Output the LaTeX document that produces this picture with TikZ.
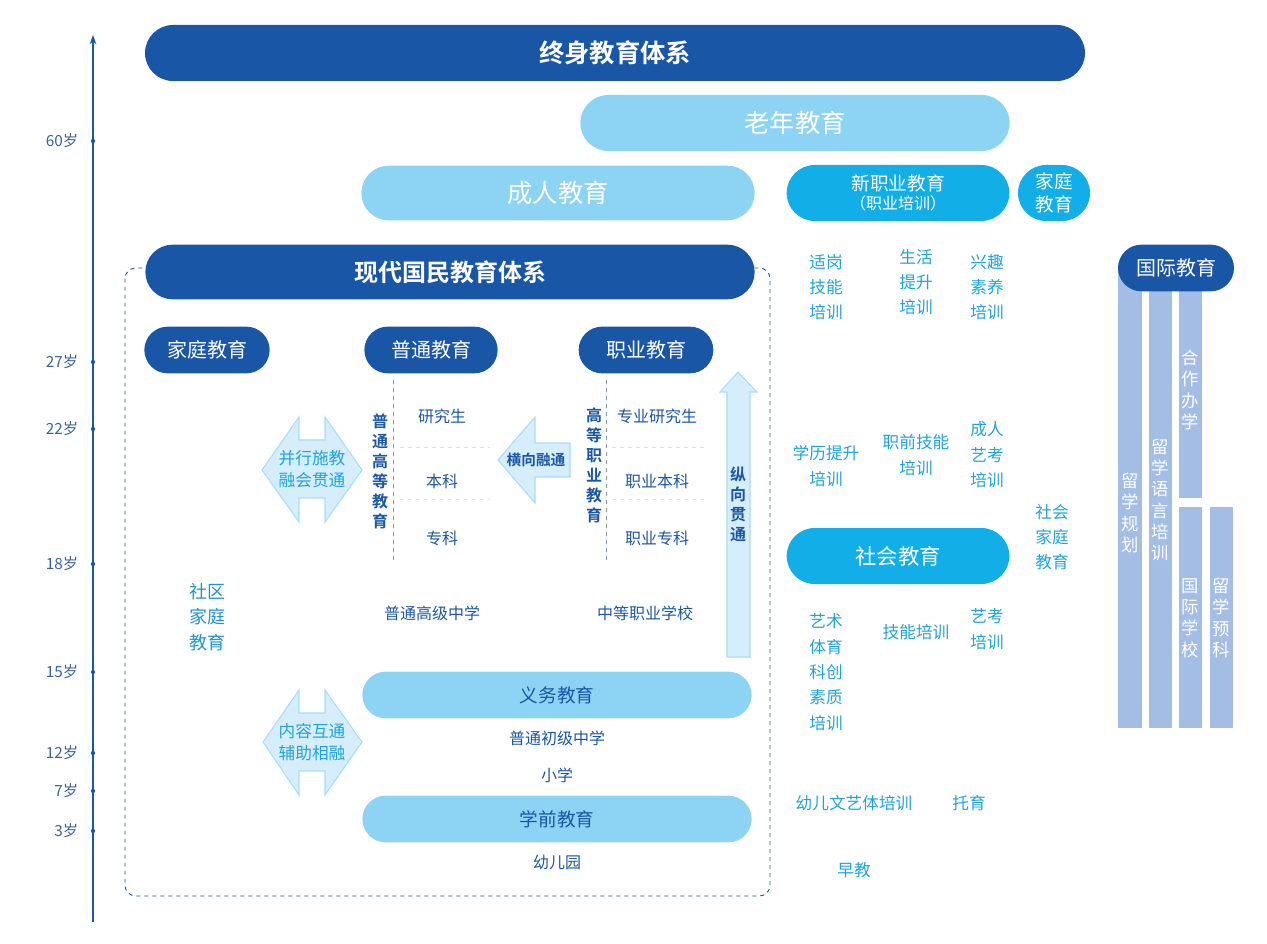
\documentclass[tikz,border=0pt]{standalone}
\usepackage{fontspec}
\setmainfont{Noto Sans CJK SC}[BoldFont={Noto Sans CJK SC Bold}]
\usetikzlibrary{shapes.misc,arrows.meta}
\definecolor{dk}{HTML}{1A56A6}
\definecolor{lb}{HTML}{8DD4F4}
\definecolor{cy}{HTML}{12AEE8}
\definecolor{ct}{HTML}{1EA4DA}
\definecolor{bar}{HTML}{A3BDE4}
\definecolor{arr}{HTML}{D6EEFB}
\definecolor{arrd}{HTML}{A9DCF5}
\tikzset{
  pill/.style={rounded rectangle,fill=#1,inner sep=0pt,text=white},
  age/.style={font=\fontsize{11.5}{13}\selectfont,text=dk!70!gray,anchor=east},
  itm/.style={font=\fontsize{12}{14}\selectfont,text=dk,align=center},
  rt/.style={font=\fontsize{12.5}{19}\selectfont,text=ct,align=center},
  vb/.style={font=\bfseries\fontsize{12}{15}\selectfont,text=dk,align=center},
  bartxt/.style={font=\fontsize{13}{16}\selectfont,text=white,align=center},
  fatarrow/.style={fill=arr,draw=arrd,line width=0.8pt},
}
\begin{document}
\begin{tikzpicture}[x=0.75pt,y=-0.75pt]
\useasboundingbox (0,0) rectangle (1267,944);
% axis
\draw[dk,line width=1pt,-{Stealth[length=7pt,width=5pt]}] (93,922) -- (93,35);
\foreach \y/\t in {141/60岁,362/27岁,429/22岁,564/18岁,672/15岁,753/12岁,791/7岁,831/3岁}{
  \fill[dk] (93,\y) circle (1.6pt);
  \node[age] at (83,\y) {\t};
}
% top pills
\node[pill=dk,minimum width=705pt,minimum height=42pt,font=\bfseries\fontsize{19}{22}\selectfont] (life) at (615,53) {终身教育体系};
\node[pill=lb,minimum width=322pt,minimum height=42pt,font=\fontsize{19}{22}\selectfont] (old) at (795,123) {老年教育};
\node[pill=lb,minimum width=295pt,minimum height=41pt,font=\fontsize{19}{22}\selectfont] (adult) at (558,193) {成人教育};
\node[pill=cy,minimum width=167pt,minimum height=42pt,align=center,font=\fontsize{14}{14}\selectfont] (newv) at (898,193) {新职业教育\\{\fontsize{12}{14}\selectfont（职业培训）}};
\node[pill=cy,minimum width=54pt,minimum height=42pt,align=center,font=\fontsize{14}{17}\selectfont] (fam2) at (1054,193) {家庭\\教育};
% modern system
\draw[dk,dashed,line width=0.7pt,rounded corners=8pt] (125,268) rectangle (770,896);
\node[pill=dk,minimum width=457pt,minimum height=41pt,font=\bfseries\fontsize{18}{22}\selectfont] (modern) at (450,272) {现代国民教育体系};
\node[pill=dk,minimum width=94pt,minimum height=35pt,font=\fontsize{15}{18}\selectfont] (fam) at (207,350) {家庭教育};
\node[pill=dk,minimum width=100pt,minimum height=35pt,font=\fontsize{15}{18}\selectfont] (gen) at (431,350) {普通教育};
\node[pill=dk,minimum width=101pt,minimum height=35pt,font=\fontsize{15}{18}\selectfont] (voc) at (646,350) {职业教育};
\node[rt,text=ct!80!dk,font=\fontsize{13.5}{19}\selectfont] (comm) at (207,617) {社区\\家庭\\教育};
% higher general
\draw[dk!60,dashed] (393,380) -- (393,560);
\draw[arrd!60,dashed] (400,447) -- (490,447) (400,499) -- (490,499);
\node[vb] (hg) at (380,471) {普\\通\\高\\等\\教\\育};
\node[itm] (yjs) at (442,416) {研究生};
\node[itm] (bk) at (442,481) {本科};
\node[itm] (zk) at (442,538) {专科};
% higher vocational
\draw[dk!60,dashed] (606,380) -- (606,560);
\draw[arrd!60,dashed] (612,447) -- (705,447) (612,499) -- (705,499);
\node[vb] (hv) at (594,465) {高\\等\\职\\业\\教\\育};
\node[itm] (zyyjs) at (657,416) {专业研究生};
\node[itm] (zybk) at (657,481) {职业本科};
\node[itm] (zyzk) at (657,538) {职业专科};
% horizontal arrow
\draw[fatarrow] (570,443) -- (535,443) -- (535,417) -- (498,460) -- (535,503) -- (535,477) -- (570,477) -- cycle;
\node[vb,font=\bfseries\fontsize{11}{13}\selectfont] (hx) at (536,460) {横向融通};
% double arrow top
\draw[fatarrow] (299,440) -- (325,440) -- (325,417) -- (362,470) -- (325,522) -- (325,498) -- (299,498) -- (299,522) -- (262,470) -- (299,417) -- cycle;
\node[rt,font=\fontsize{12.5}{17}\selectfont] (bx) at (312,469) {并行施教\\融会贯通};
% vertical arrow
\draw[fatarrow] (727,657) -- (727,392) -- (720,392) -- (738,372) -- (757,392) -- (750,392) -- (750,657) -- cycle;
\node[vb] (zx) at (738,504) {纵\\向\\贯\\通};
\node[itm] (gz) at (432,613) {普通高级中学};
\node[itm] (zz) at (645,613) {中等职业学校};
% compulsory
\node[pill=lb,minimum width=292pt,minimum height=35pt,text=dk,font=\fontsize{14}{17}\selectfont] (yw) at (557,695) {义务教育};
\node[itm] (cz) at (557,738) {普通初级中学};
\node[itm] (xx) at (557,775) {小学};
\node[pill=lb,minimum width=292pt,minimum height=35pt,text=dk,font=\fontsize{14}{17}\selectfont] (xq) at (557,819) {学前教育};
\node[itm] (yey) at (557,862) {幼儿园};
\draw[fatarrow] (299,713) -- (325,713) -- (325,690) -- (362,742) -- (325,795) -- (325,771) -- (299,771) -- (299,795) -- (263,742) -- (299,690) -- cycle;
\node[rt,font=\fontsize{12.5}{17}\selectfont] (nr) at (312,742) {内容互通\\辅助相融};
% right column
\node[rt] (sg) at (826,287) {适岗\\技能\\培训};
\node[rt] (sh) at (916,282) {生活\\提升\\培训};
\node[rt] (xq2) at (987,287) {兴趣\\素养\\培训};
\node[rt] (xl) at (826,466) {学历提升\\培训};
\node[rt] (zq) at (916,455) {职前技能\\培训};
\node[rt] (cr) at (987,455) {成人\\艺考\\培训};
\node[pill=cy,minimum width=167pt,minimum height=42pt,font=\fontsize{16}{19}\selectfont] (sj) at (898,556) {社会教育};
\node[rt] (shjt) at (1052,537) {社会\\家庭\\教育};
\node[rt] (ys) at (826,672) {艺术\\体育\\科创\\素质\\培训};
\node[rt] (jn) at (916,632) {技能培训};
\node[rt] (yk) at (987,629) {艺考\\培训};
\node[rt] (ye) at (854,803) {幼儿文艺体培训};
\node[rt] (ty) at (969,803) {托育};
\node[rt] (zj) at (854,870) {早教};
% international
\fill[bar] (1118,270) rectangle (1142,728);
\fill[bar] (1149,290) rectangle (1172,728);
\fill[bar] (1179,290) rectangle (1202,498);
\fill[bar] (1179,507) rectangle (1202,728);
\fill[bar] (1210,507) rectangle (1233,728);
\node[pill=dk,minimum width=87pt,minimum height=35pt,font=\fontsize{15}{18}\selectfont] (gj) at (1176,268) {国际教育};
\node[bartxt] (b1) at (1130,513) {留\\学\\规\\划};
\node[bartxt] (b2) at (1160,500) {留\\学\\语\\言\\培\\训};
\node[bartxt] (b3) at (1190,390) {合\\作\\办\\学};
\node[bartxt] (b4) at (1190,618) {国\\际\\学\\校};
\node[bartxt] (b5) at (1221,618) {留\\学\\预\\科};
\end{tikzpicture}
\end{document}
